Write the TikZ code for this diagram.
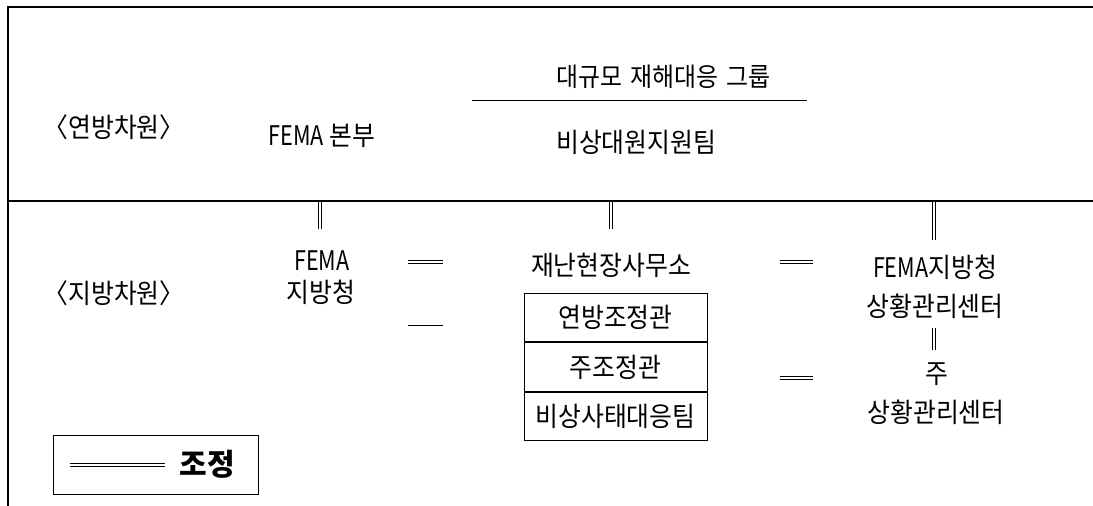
\documentclass[tikz,border=0pt]{standalone}
\usepackage{fontspec}
\setmainfont{Noto Sans CJK KR}[FakeStretch=0.92]
\newfontfamily\narrowlat{Noto Sans CJK KR}[FakeStretch=0.8]
\newfontfamily\legendfont{Noto Sans CJK KR}
\newcommand{\fema}{{\narrowlat FEMA}}
\begin{document}
\begin{tikzpicture}[x=1pt,y=-1pt,
  lbl/.style={font=\fontsize{27}{30}\selectfont, inner sep=0pt},
  coordline/.style={double, double distance=2.2pt, line width=0.7pt},
  thinline/.style={line width=0.9pt},
  frameline/.style={line width=1.4pt},
  cell/.style={draw, line width=1pt, minimum width=183pt, minimum height=48.5pt,
    inner sep=0pt, font=\fontsize{27}{30}\selectfont}]
\useasboundingbox (0,0) rectangle (1093,506);
% frame
\coordinate (tl) at (8,7);
\coordinate (tr) at (1093,7);
\coordinate (ml) at (8,201);
\coordinate (mr) at (1093,201);
\coordinate (bl) at (8,506);
\draw[frameline] (tr) -- (tl) -- (bl);
\draw[frameline] (ml) -- (mr);
% federal level
\node[lbl] (fed) at (114,127) {〈연방차원〉};
\node[lbl] (hq) at (322,136) {\fema\ 본부};
\node[lbl, anchor=west, font=\fontsize{26}{30}\selectfont] (grp) at (556,77) {대규모\hspace{8pt}재해대응\hspace{8pt}그룹};
\coordinate (ga) at (472,100);
\coordinate (gb) at (807,100);
\draw[thinline] (ga) -- (gb);
\node[lbl, anchor=west] (ert) at (556,142) {비상대원지원팀};
% regional level
\node[lbl] (loc) at (114,293) {〈지방차원〉};
\node[lbl] (regA) at (322,261) {\fema};
\node[lbl] (regB) at (321,292) {지방청};
\node[lbl] (dfo) at (611,265) {재난현장사무소};
\node[cell] (c1) at (615.5,317.5) {연방조정관};
\node[cell, anchor=north] (c2) at (c1.south) {주조정관};
\node[cell, anchor=north] (c3) at (c2.south) {비상사태대응팀};
\node[lbl] (rocA) at (935,267) {\fema 지방청};
\node[lbl] (rocB) at (935,306) {상황관리센터};
\node[lbl] (st) at (937,374) {주};
\node[lbl] (soc) at (936,412) {상황관리센터};
% vertical coordination lines
\coordinate (v1a) at (320,202); \coordinate (v1b) at (320,229);
\coordinate (v2a) at (611,202); \coordinate (v2b) at (611,229);
\coordinate (v3a) at (934,202); \coordinate (v3b) at (934,240);
\coordinate (v4a) at (934,328); \coordinate (v4b) at (934,350);
\draw[coordline] (v1a) -- (v1b);
\draw[coordline] (v2a) -- (v2b);
\draw[coordline] (v3a) -- (v3b);
\draw[coordline] (v4a) -- (v4b);
% horizontal marks
\coordinate (h1a) at (408,262); \coordinate (h1b) at (443,262);
\coordinate (h2a) at (408,325); \coordinate (h2b) at (443,325);
\coordinate (h3a) at (780,262); \coordinate (h3b) at (813,262);
\coordinate (h4a) at (780,378); \coordinate (h4b) at (813,378);
\draw[coordline] (h1a) -- (h1b);
\draw[thinline] (h2a) -- (h2b);
\draw[coordline] (h3a) -- (h3b);
\draw[coordline] (h4a) -- (h4b);
% legend
\node[draw, line width=0.9pt, minimum width=205pt, minimum height=59pt, inner sep=0pt] (leg) at (155.5,464.5) {};
\coordinate (la) at (70,465);
\coordinate (lb) at (165,465);
\draw[coordline] (la) -- (lb);
\node[lbl, font=\legendfont\fontsize{30}{33}\selectfont\bfseries] (legtxt) at (207,464) {조정};
\end{tikzpicture}
\end{document}
